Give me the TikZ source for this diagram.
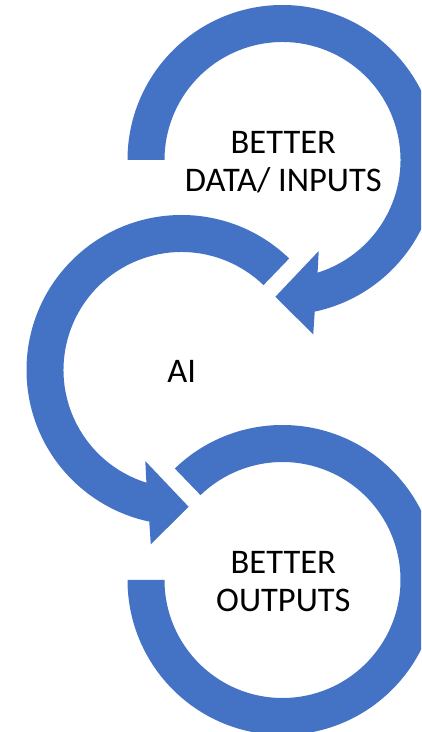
\documentclass[tikz,border=0pt]{standalone}
\usepackage{fontspec}
\setmainfont{Carlito}
\definecolor{ringblue}{RGB}{68,114,196}
\tikzset{
  ring/.style={fill=ringblue, draw=none},
  label/.style={align=center, text=black, inner sep=0pt, font=\fontsize{34.5}{38}\selectfont}
}
\begin{document}
\begin{tikzpicture}[x=1pt,y=1pt]
\useasboundingbox (0,0) rectangle (421,732);
\clip (0,0) rectangle (421,732);
\fill[white] (0,0) rectangle (421,732);
\coordinate (c1) at (282.5,572);
\coordinate (c2) at (181.5,362);
\coordinate (c3) at (282.5,152);
% top arc with arrowhead
\fill[ring] ([shift={(c1)}]180:118) -- ([shift={(c1)}]180:155)
  arc[start angle=180, end angle=-78, radius=155pt]
  -- ([shift={(c1)}]-80:177) -- ([shift={(c1)}]-93:137) -- ([shift={(c1)}]-68.3:98)
  -- ([shift={(c1)}]-72.7:118)
  arc[start angle=-72.7, end angle=180, radius=118pt] -- cycle;
% middle arc with arrowhead
\fill[ring] ([shift={(c2)}]46:118) -- ([shift={(c2)}]46:155)
  arc[start angle=46, end angle=258, radius=155pt]
  -- ([shift={(c2)}]260:177) -- ([shift={(c2)}]273:137) -- ([shift={(c2)}]248.3:98)
  -- ([shift={(c2)}]252.7:118)
  arc[start angle=252.7, end angle=46, radius=118pt] -- cycle;
% bottom arc
\fill[ring] ([shift={(c3)}]134:118) -- ([shift={(c3)}]134:155)
  arc[start angle=134, end angle=-180, radius=155pt]
  -- ([shift={(c3)}]180:118)
  arc[start angle=-180, end angle=134, radius=118pt] -- cycle;
\node[label] (t1) at (283.3,570.3) {BETTER\\DATA/ INPUTS};
\node[label] (t2) at (181.7,360.3) {AI};
\node[label] (t3) at (283.3,150.3) {BETTER\\OUTPUTS};
\end{tikzpicture}
\end{document}
